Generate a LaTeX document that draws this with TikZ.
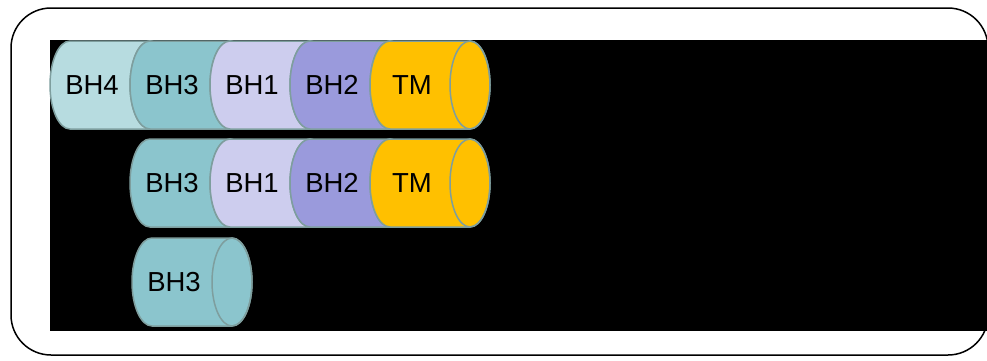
\documentclass[tikz,border=0pt]{standalone}
\usepackage{fontspec}
\setmainfont{Liberation Sans}
\definecolor{bhfour}{HTML}{B7DCE0}
\definecolor{bhthree}{HTML}{8BC5CD}
\definecolor{bhone}{HTML}{CDCDEE}
\definecolor{bhtwo}{HTML}{9A9ADC}
\definecolor{tmgold}{HTML}{FFC000}
\definecolor{rimgray}{HTML}{7E9E9E}
\begin{document}
\begin{tikzpicture}[x=1pt,y=1pt,
    rim/.style={draw=rimgray,line width=1.5pt},
    lab/.style={font=\fontsize{27.5}{32}\selectfont,inner sep=0pt}]
    \useasboundingbox (0,0) rectangle (987,360);
    \clip (0,0) rectangle (987,360);
    \draw[line width=1.5pt,rounded corners=40pt] (11,5) rectangle (988,352);
    \fill (50,29) rectangle (987,320);

    % first row
    \foreach \cx/\col/\txt [count=\i] in {70/bhfour/BH4,150/bhthree/BH3,230/bhone/BH1,310/bhtwo/BH2,390/tmgold/TM}{
        \filldraw[rim,fill=\col] (\cx,319) arc[start angle=90,end angle=270,x radius=20,y radius=44] -- ++(80,0) arc[start angle=-90,end angle=90,x radius=20,y radius=44] -- cycle;
        \draw[rim] (\cx+80,275) ellipse[x radius=20,y radius=44];
        \node[lab] (top\i) at (\cx+22,275) {\txt};
    }

    % second row
    \foreach \cx/\col/\txt [count=\i] in {150/bhthree/BH3,230/bhone/BH1,310/bhtwo/BH2,390/tmgold/TM}{
        \filldraw[rim,fill=\col] (\cx,221) arc[start angle=90,end angle=270,x radius=20,y radius=44] -- ++(80,0) arc[start angle=-90,end angle=90,x radius=20,y radius=44] -- cycle;
        \draw[rim] (\cx+80,177) ellipse[x radius=20,y radius=44];
        \node[lab] (mid\i) at (\cx+22,177) {\txt};
    }

    % third row
    \filldraw[rim,fill=bhthree] (152,122) arc[start angle=90,end angle=270,x radius=20,y radius=44] -- ++(80,0) arc[start angle=-90,end angle=90,x radius=20,y radius=44] -- cycle;
    \draw[rim] (232,78) ellipse[x radius=20,y radius=44];
    \node[lab] (low1) at (174,78) {BH3};

\end{tikzpicture}
\end{document}
